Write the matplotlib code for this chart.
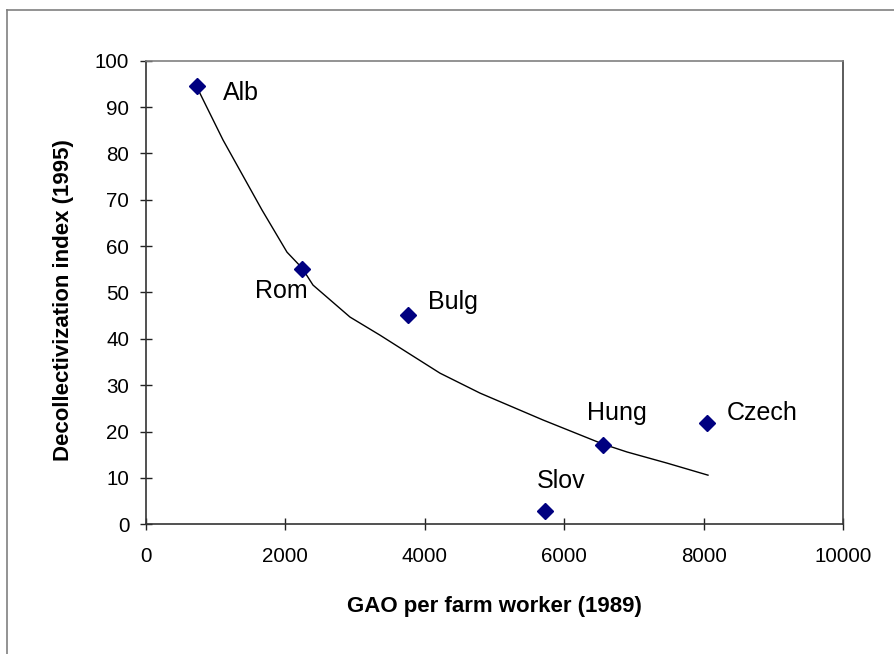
import matplotlib
matplotlib.use("Agg")
import matplotlib.pyplot as plt
from matplotlib.lines import Line2D

plt.rcParams["font.family"] = ["Liberation Sans", "DejaVu Sans"]

# data
countries = ["Alb", "Rom", "Bulg", "Hung", "Czech", "Slov"]
gao_per_worker = [735, 2232, 3752, 6556, 8053, 5731]
decollect_index = [94.5, 55.1, 45.2, 17.2, 21.9, 2.9]

# trend curve
trend_x = [740, 1105, 1664, 2023, 2238, 2396, 2927, 3357, 3745, 4218, 4792, 5696, 6557, 6901, 7475, 8063]
trend_y = [94.0, 82.9, 67.8, 58.7, 55.3, 51.6, 44.7, 40.8, 37.1, 32.6, 28.3, 22.5, 17.3, 15.6, 13.2, 10.6]

x_ticks = [0, 2000, 4000, 6000, 8000, 10000]
y_ticks = [0, 10, 20, 30, 40, 50, 60, 70, 80, 90, 100]

# label offsets in pixels (dx, dy) relative to each point
label_offsets = {
    "Alb": (26, -14),
    "Rom": (-47, -29),
    "Bulg": (20, 6),
    "Hung": (-16, 25),
    "Czech": (19, 3),
    "Slov": (-9, 23),
}

W, H = 894, 654
fig = plt.figure(figsize=(W / 100, H / 100), dpi=100)
ax = fig.add_axes([146 / W, 1 - 524.3 / H, (843 - 146) / W, (524.3 - 60.7) / H])

ax.plot(trend_x, trend_y, color="black", lw=1.0, zorder=2)
ax.plot(gao_per_worker, decollect_index, linestyle="none", marker="D",
        markersize=8.5, color="#000080", zorder=3)

for name, xv, yv in zip(countries, gao_per_worker, decollect_index):
    dx, dy = label_offsets[name]
    ax.annotate(name, (xv, yv), xytext=(dx, dy), textcoords="offset pixels",
                fontsize=18, ha="left", va="baseline", color="black")

ax.set_xlim(0, 10000)
ax.set_ylim(0, 100)
ax.set_xticks(x_ticks)
ax.set_yticks(y_ticks)
ax.tick_params(direction="inout", length=9, width=1.0, labelsize=14.8, colors="#222222")
ax.tick_params(axis="y", pad=7.5)
ax.tick_params(axis="x", pad=12)
for lab in ax.get_xticklabels() + ax.get_yticklabels():
    lab.set_color("black")

ax.spines["left"].set_color("#333333")
ax.spines["bottom"].set_color("#333333")
ax.spines["top"].set_color("#808080")
ax.spines["right"].set_color("#404040")
for sp in ax.spines.values():
    sp.set_linewidth(1.2)

fig.text(494.5 / W, 1 - 611.7 / H, "GAO per farm worker (1989)", ha="center",
         va="baseline", fontsize=16, fontweight="bold")
fig.text(64 / W, 1 - 300 / H, "Decollectivization index (1995)", ha="center",
         va="center", rotation=90, fontsize=16, fontweight="bold")

# outer chart border (only top and left are inside the picture)
fig.add_artist(Line2D([7 / W, 1.0], [1 - 10 / H, 1 - 10 / H], transform=fig.transFigure,
                      color="#808080", lw=1.2))
fig.add_artist(Line2D([7 / W, 7 / W], [1 - 10 / H, 0.0], transform=fig.transFigure,
                      color="#808080", lw=1.2))

fig.savefig("out.png", dpi=100)
